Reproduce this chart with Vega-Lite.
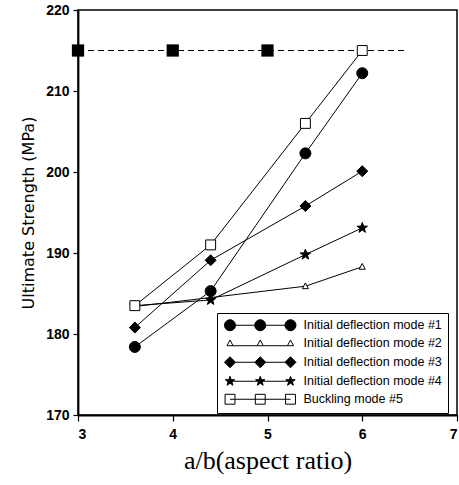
{
  "$schema": "https://vega.github.io/schema/vega-lite/v6.json",
  "width": 379,
  "height": 405,
  "autosize": {"type": "none"},
  "padding": {"left": 78, "top": 10, "right": 2, "bottom": 70},
  "background": "white",
  "config": {
    "view": {"stroke": "black", "strokeWidth": 1.5},
    "axis": {"domainColor": "black", "domainWidth": 1.8, "tickColor": "black", "tickWidth": 1.2, "grid": false, "labelColor": "black", "titleColor": "black"}
  },
  "datasets": {
    "series": [
      {"x": 3.6, "y": 178.4, "s": "Initial deflection mode #1"},
      {"x": 4.4, "y": 185.3, "s": "Initial deflection mode #1"},
      {"x": 5.4, "y": 202.3, "s": "Initial deflection mode #1"},
      {"x": 6.0, "y": 212.2, "s": "Initial deflection mode #1"},
      {"x": 3.6, "y": 183.4, "s": "Initial deflection mode #2"},
      {"x": 4.4, "y": 184.5, "s": "Initial deflection mode #2"},
      {"x": 5.4, "y": 185.9, "s": "Initial deflection mode #2"},
      {"x": 6.0, "y": 188.3, "s": "Initial deflection mode #2"},
      {"x": 3.6, "y": 180.8, "s": "Initial deflection mode #3"},
      {"x": 4.4, "y": 189.1, "s": "Initial deflection mode #3"},
      {"x": 5.4, "y": 195.8, "s": "Initial deflection mode #3"},
      {"x": 6.0, "y": 200.1, "s": "Initial deflection mode #3"},
      {"x": 3.6, "y": 183.5, "s": "Initial deflection mode #4"},
      {"x": 4.4, "y": 184.2, "s": "Initial deflection mode #4"},
      {"x": 5.4, "y": 189.8, "s": "Initial deflection mode #4"},
      {"x": 6.0, "y": 193.1, "s": "Initial deflection mode #4"},
      {"x": 3.6, "y": 183.5, "s": "Buckling mode #5"},
      {"x": 4.4, "y": 191.0, "s": "Buckling mode #5"},
      {"x": 5.4, "y": 206.0, "s": "Buckling mode #5"},
      {"x": 6.0, "y": 215.0, "s": "Buckling mode #5"}
    ],
    "ref": [
      {"x": 3, "y": 215},
      {"x": 4, "y": 215},
      {"x": 5, "y": 215}
    ],
    "dash": [
      {"x": 3, "y": 215},
      {"x": 6.48, "y": 215}
    ]
  },
  "encoding": {
    "x": {
      "field": "x", "type": "quantitative",
      "scale": {"domain": [3, 7], "nice": false, "zero": false},
      "axis": {
        "values": [3, 4, 5, 6, 7], "format": "d",
        "title": "a/b(aspect ratio)",
        "titleFont": "Liberation Serif", "titleFontSize": 26, "titleFontWeight": "normal", "titlePadding": 6,
        "labelFont": "Liberation Sans", "labelFontSize": 14, "labelFontWeight": "bold", "labelPadding": 6,
        "tickSize": 6
      }
    },
    "y": {
      "field": "y", "type": "quantitative",
      "scale": {"domain": [170, 220], "nice": false, "zero": false},
      "axis": {
        "values": [170, 180, 190, 200, 210, 220], "format": "d",
        "title": "Ultimate Strength (MPa)",
        "titleFont": "DejaVu Sans", "titleFontSize": 16, "titleFontWeight": "normal", "titlePadding": 9,
        "labelFont": "Liberation Sans", "labelFontSize": 14, "labelFontWeight": "bold", "labelPadding": 4,
        "tickSize": 5
      }
    }
  },
  "layer": [
    {
      "data": {"name": "series"},
      "mark": {"type": "line", "color": "black", "strokeWidth": 1},
      "encoding": {"detail": {"field": "s"}, "order": {"field": "x"}}
    },
    {
      "data": {"name": "dash"},
      "mark": {"type": "line", "color": "black", "strokeWidth": 1.2, "strokeDash": [6, 4]},
      "encoding": {}
    },
    {
      "data": {"name": "ref"},
      "mark": {"type": "point", "shape": "square", "size": 150, "filled": true, "color": "black", "opacity": 1}
    },
    {
      "data": {"name": "series"},
      "mark": {"type": "point", "filled": true, "size": 121, "stroke": "black", "strokeWidth": 1, "opacity": 1},
      "encoding": {
        "shape": {
          "field": "s", "type": "nominal", "legend": null,
          "scale": {
            "domain": ["Initial deflection mode #1", "Initial deflection mode #2", "Initial deflection mode #3", "Initial deflection mode #4", "Buckling mode #5"],
            "range": [
              "circle",
              "M0,-0.6L0.55,0.45L-0.55,0.45Z",
              "M0,-1L1,0L0,1L-1,0Z",
              "M0,-1L0.235,-0.324L0.951,-0.309L0.380,0.124L0.588,0.809L0,0.4L-0.588,0.809L-0.380,0.124L-0.951,-0.309L-0.235,-0.324Z",
              "M-0.9,-0.9L0.9,-0.9L0.9,0.9L-0.9,0.9Z"
            ]
          }
        },
        "fill": {
          "field": "s", "type": "nominal", "legend": null,
          "scale": {
            "domain": ["Initial deflection mode #1", "Initial deflection mode #2", "Initial deflection mode #3", "Initial deflection mode #4", "Buckling mode #5"],
            "range": ["black", "white", "black", "black", "white"]
          }
        }
      }
    },
    {
      "data": {"name": "series"},
      "mark": {"type": "point", "filled": true, "size": 121, "strokeWidth": 1, "opacity": 0},
      "encoding": {
        "shape": {
          "field": "s", "type": "nominal",
          "scale": {
            "domain": ["Initial deflection mode #1", "Initial deflection mode #2", "Initial deflection mode #3", "Initial deflection mode #4", "Buckling mode #5"],
            "range": [
              "M-4.5,0L-1,0M1,0L4.5,0M-4.5,0A1,1,0,1,1,-6.5,0A1,1,0,1,1,-4.5,0ZM1,0A1,1,0,1,1,-1,0A1,1,0,1,1,1,0ZM6.5,0A1,1,0,1,1,4.5,0A1,1,0,1,1,6.5,0Z",
              "M-4.95,0.45L-0.55,0.45M0.55,0.45L4.95,0.45M-5.5,-0.6L-4.95,0.45L-6.05,0.45ZM0,-0.6L0.55,0.45L-0.55,0.45ZM5.5,-0.6L6.05,0.45L4.95,0.45Z",
              "M-4.5,0L-1,0M1,0L4.5,0M-5.5,-1L-4.5,0L-5.5,1L-6.5,0ZM0,-1L1,0L0,1L-1,0ZM5.5,-1L6.5,0L5.5,1L4.5,0Z",
              "M-5,0L-0.5,0M0.5,0L5,0M-5.5,-0.9L-5.288,-0.292L-4.644,-0.278L-5.158,0.111L-4.971,0.728L-5.5,0.36L-6.029,0.728L-5.842,0.111L-6.356,-0.278L-5.712,-0.292ZM0,-0.9L0.212,-0.292L0.856,-0.278L0.342,0.111L0.529,0.728L0,0.36L-0.529,0.728L-0.342,0.111L-0.856,-0.278L-0.212,-0.292ZM5.5,-0.9L5.712,-0.292L6.356,-0.278L5.842,0.111L6.029,0.728L5.5,0.36L4.971,0.728L5.158,0.111L4.644,-0.278L5.288,-0.292Z",
              "M-5.5,0L5.5,0M-6.4,-0.9L-4.6,-0.9L-4.6,0.9L-6.4,0.9ZM-0.9,-0.9L0.9,-0.9L0.9,0.9L-0.9,0.9ZM4.6,-0.9L6.4,-0.9L6.4,0.9L4.6,0.9Z"
            ]
          },
          "legend": {
            "orient": "none", "legendX": 139, "legendY": 303, "title": null,
            "symbolSize": 121, "symbolStrokeWidth": 1, "symbolOpacity": 1,
            "labelFont": "Liberation Sans", "labelFontSize": 12.5, "labelColor": "black",
            "strokeColor": "black", "fillColor": "white", "padding": 6, "rowPadding": 4,
            "symbolOffset": 31, "labelOffset": 37
          }
        },
        "fill": {
          "field": "s", "type": "nominal",
          "scale": {
            "domain": ["Initial deflection mode #1", "Initial deflection mode #2", "Initial deflection mode #3", "Initial deflection mode #4", "Buckling mode #5"],
            "range": ["black", "white", "black", "black", "white"]
          }
        },
        "stroke": {
          "field": "s", "type": "nominal",
          "scale": {
            "domain": ["Initial deflection mode #1", "Initial deflection mode #2", "Initial deflection mode #3", "Initial deflection mode #4", "Buckling mode #5"],
            "range": ["black", "black", "black", "black", "black"]
          }
        }
      }
    }
  ],
  "resolve": {"scale": {"shape": "independent", "fill": "independent", "stroke": "independent"}}
}
